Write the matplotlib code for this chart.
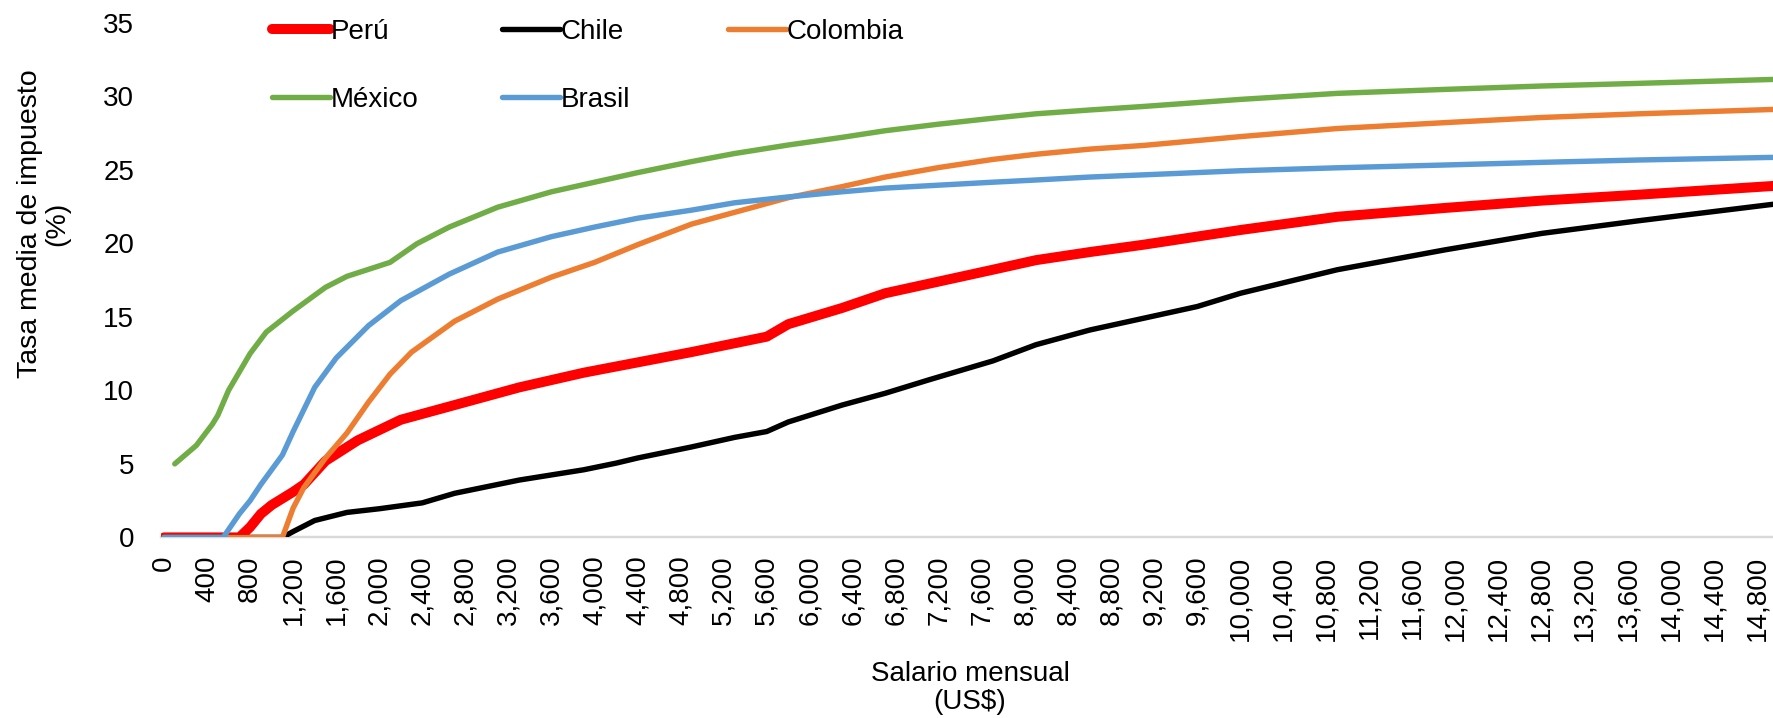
# average tax rate by monthly salary, five countries
import numpy as np
from matplotlib import pyplot as plt

plt.rcParams['font.family'] = ['Liberation Sans', 'DejaVu Sans']
fs = 20

# --- data (salary US$, rate %) ---
peru_x = [0, 700, 800, 900, 1000, 1200, 1300, 1500, 1800, 2200, 2800, 3300, 3900, 4400,
          4900, 5300, 5600, 5800, 6300, 6700, 7200, 7700, 8100, 8600, 9100, 10000, 10900,
          11900, 12800, 13700, 14960]
peru_y = [0, 0, 0.7, 1.6, 2.2, 3.1, 3.6, 5.2, 6.6, 8.0, 9.2, 10.2, 11.2, 11.9,
          12.6, 13.2, 13.65, 14.5, 15.6, 16.6, 17.4, 18.2, 18.85, 19.4, 19.9, 20.9, 21.8,
          22.4, 22.9, 23.3, 23.9]

chile_x = [0, 1100, 1200, 1400, 1700, 2000, 2400, 2700, 3300, 3900, 4000, 4200, 4400,
           4900, 5300, 5600, 5800, 6300, 6700, 7100, 7700, 8100, 8600, 9100, 9600, 10000,
           10900, 11900, 12800, 13700, 14960]
chile_y = [0, 0, 0.4, 1.15, 1.7, 1.95, 2.35, 3.0, 3.9, 4.6, 4.75, 5.05, 5.4,
           6.15, 6.8, 7.2, 7.85, 9.0, 9.8, 10.7, 12.0, 13.1, 14.1, 14.9, 15.7, 16.6,
           18.2, 19.55, 20.67, 21.53, 22.66]

colombia_x = [0, 1100, 1200, 1300, 1500, 1700, 1900, 2100, 2300, 2700, 3100, 3600, 4000,
              4400, 4900, 5300, 5800, 6300, 6700, 7200, 7700, 8100, 8600, 9100, 10000,
              10900, 11900, 12800, 13700, 14960]
colombia_y = [0, 0, 2.0, 3.4, 5.4, 7.1, 9.2, 11.1, 12.6, 14.7, 16.2, 17.7, 18.7,
              19.9, 21.3, 22.1, 23.1, 23.85, 24.5, 25.15, 25.7, 26.05, 26.4, 26.65, 27.25,
              27.8, 28.2, 28.55, 28.8, 29.1]

mexico_x = [100, 300, 450, 500, 600, 800, 950, 1200, 1500, 1700, 2100, 2350, 2650, 3100,
            3600, 4000, 4400, 4900, 5300, 5800, 6300, 6700, 7200, 7700, 8100, 8600, 9100,
            10000, 10900, 11900, 12800, 13700, 14960]
mexico_y = [5.0, 6.25, 7.7, 8.3, 10.0, 12.5, 13.96, 15.4, 17.0, 17.75, 18.7, 19.97, 21.1, 22.45,
            23.5, 24.15, 24.8, 25.55, 26.1, 26.68, 27.2, 27.65, 28.1, 28.5, 28.8, 29.06, 29.3,
            29.78, 30.19, 30.46, 30.69, 30.87, 31.14]

brasil_x = [0, 550, 700, 800, 900, 1100, 1200, 1300, 1400, 1600, 1900, 2200, 2650, 3100,
            3600, 4000, 4400, 4900, 5300, 5800, 6300, 6700, 7200, 7700, 8100, 8600, 9100,
            10000, 10900, 11900, 12800, 13700, 14960]
brasil_y = [0, 0, 1.6, 2.5, 3.6, 5.6, 7.2, 8.7, 10.2, 12.2, 14.4, 16.1, 17.9, 19.4,
            20.45, 21.1, 21.7, 22.25, 22.75, 23.15, 23.5, 23.75, 23.95, 24.15, 24.3, 24.5, 24.65,
            24.93, 25.13, 25.32, 25.5, 25.66, 25.84]

x_ticks = list(range(0, 15000, 400))
y_ticks = [0, 5, 10, 15, 20, 25, 30, 35]

series = [
    ['Perú', peru_x, peru_y, '#FF0000', 7.2],
    ['Chile', chile_x, chile_y, '#000000', 3.9],
    ['Colombia', colombia_x, colombia_y, '#ED7D31', 3.9],
    ['México', mexico_x, mexico_y, '#70AD47', 3.9],
    ['Brasil', brasil_x, brasil_y, '#5B9BD5', 3.9],
]

W, H = 1774, 718
fig = plt.figure(figsize=(W / 100, H / 100), dpi=100)
ax = fig.add_axes([161.3 / W, 0.2515, 1 - 161.3 / W, 0.9685 - 0.2515])

handles = {}
for name, xs, ys, col, lw in series:
    h, = ax.plot(xs, ys, color=col, linewidth=lw, solid_capstyle='round',
                 solid_joinstyle='round', label=name)
    handles[name] = h

ax.set_xlim(-25, 14957)
ax.set_ylim(0, 35)

for s in ['top', 'right', 'left']:
    ax.spines[s].set_visible(False)
ax.spines['bottom'].set_color('#D9D9D9')
ax.spines['bottom'].set_linewidth(1.75)
ax.spines['bottom'].set_zorder(0)

ax.set_xticks(x_ticks)
ax.set_xticklabels(['{:,}'.format(v) for v in x_ticks], rotation=90, fontsize=fs)
ax.set_yticks(y_ticks)
ax.set_yticklabels([str(v) for v in y_ticks], fontsize=fs)
ax.tick_params(axis='x', length=0, pad=13)
ax.tick_params(axis='y', length=0, pad=19.5)

fig.text(44 / W, 1 - 224 / H, 'Tasa media de impuesto\n(%)', rotation=90,
         ha='center', va='center', fontsize=20.5, linespacing=1.05)
fig.text(970 / W, 1 - 688 / H, 'Salario mensual\n(US$)', ha='center', va='center',
         fontsize=fs, linespacing=1.1)

# legend columns, placed like the reference (left edges in px)
leg_cols = [[272, ['Perú', 'México']], [502, ['Chile', 'Brasil']], [728, ['Colombia']]]
for x0, names in leg_cols:
    leg = fig.legend([handles[n] for n in names], names, loc='upper left',
                     bbox_to_anchor=(x0 / W, 1 - 19 / H), bbox_transform=fig.transFigure,
                     frameon=False, fontsize=fs, handlelength=2.1, handletextpad=0,
                     labelspacing=1.5, borderpad=0, borderaxespad=0)

plt.savefig('out.png', dpi=100)
